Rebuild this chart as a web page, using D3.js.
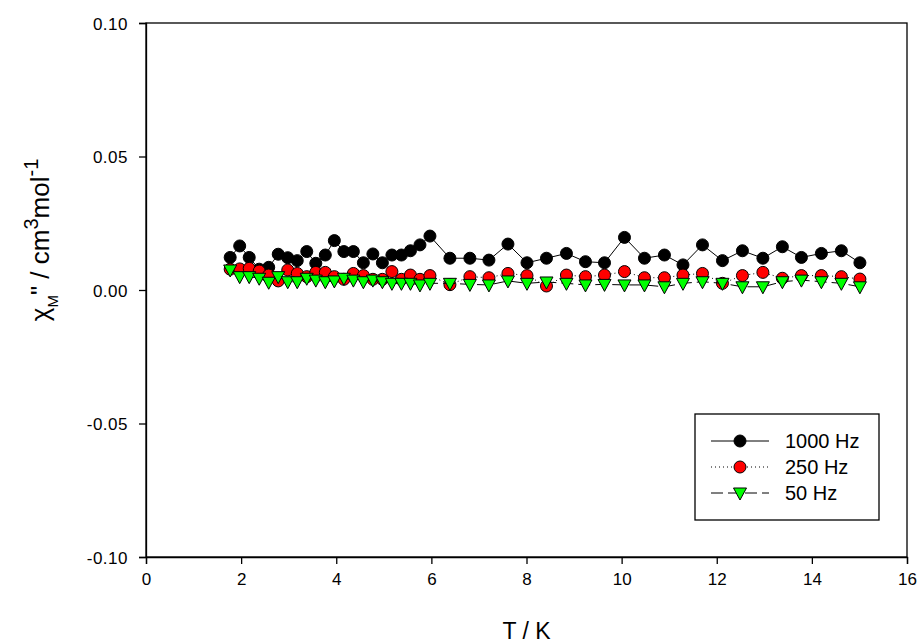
<!DOCTYPE html>
<html>
<head>
<meta charset="utf-8">
<script src="https://cdn.jsdelivr.net/npm/d3@7"></script>
<style>
html,body{margin:0;padding:0;background:#fff;}
svg{display:block;font-family:"Liberation Sans",Arial,sans-serif;}
</style>
</head>
<body>
<svg id="chart" width="921" height="644"></svg>
<script>
// ---- data ----
const temps = [1.77,1.97,2.17,2.38,2.58,2.78,2.98,3.18,3.38,3.57,3.77,3.96,4.16,4.36,4.57,4.77,4.97,5.17,5.37,5.56,5.76,5.97,
  6.39,6.81,7.21,7.61,8.01,8.42,8.84,9.24,9.64,10.06,10.48,10.90,11.29,11.70,12.12,12.54,12.97,13.38,13.78,14.20,14.62,15.01];
const hz1000 = [0.0122,0.0165,0.0122,0.0078,0.0085,0.0134,0.0121,0.0110,0.0144,0.0100,0.0131,0.0185,0.0144,0.0144,0.0102,0.0135,0.0102,0.0131,0.0131,0.0147,0.0169,0.0202,
  0.0119,0.0119,0.0112,0.0172,0.0102,0.0119,0.0137,0.0106,0.0102,0.0197,0.0119,0.0131,0.0094,0.0169,0.0110,0.0147,0.0119,0.0162,0.0122,0.0137,0.0147,0.0102];
const hz250 = [0.0078,0.0079,0.0081,0.0071,0.0056,0.0034,0.0075,0.0062,0.0050,0.0066,0.0066,0.0050,0.0040,0.0062,0.0054,0.0040,0.0040,0.0069,0.0040,0.0056,0.0040,0.0054,
  0.0020,0.0050,0.0046,0.0062,0.0054,0.0015,0.0056,0.0050,0.0056,0.0069,0.0046,0.0046,0.0056,0.0062,0.0025,0.0054,0.0066,0.0044,0.0054,0.0054,0.0050,0.0041];
const hz50 = [0.0075,0.0050,0.0050,0.0044,0.0029,0.0050,0.0031,0.0031,0.0044,0.0037,0.0031,0.0034,0.0044,0.0037,0.0031,0.0037,0.0031,0.0025,0.0025,0.0025,0.0019,0.0025,
  0.0025,0.0021,0.0019,0.0034,0.0025,0.0030,0.0025,0.0019,0.0021,0.0019,0.0019,0.0012,0.0025,0.0031,0.0025,0.0012,0.0012,0.0031,0.0037,0.0031,0.0025,0.0012];
const xTicks = [0,2,4,6,8,10,12,14,16];
const yTicks = [-0.10,-0.05,0.00,0.05,0.10];
const seriesNames = ["1000 Hz","250 Hz","50 Hz"];

// ---- layout ----
const W = 921, H = 644;
const m = {left:146, right:14, top:23, bottom:87};
const svg = d3.select("#chart");
const x = d3.scaleLinear().domain([0,16]).range([m.left, W - m.right]);
const y = d3.scaleLinear().domain([-0.10,0.10]).range([H - m.bottom, m.top]);

const series = [
  {name:seriesNames[0], vals:hz1000, fill:"#000000", dash:null, shape:"circle"},
  {name:seriesNames[1], vals:hz250, fill:"#ff0000", dash:"1,3", shape:"circle"},
  {name:seriesNames[2], vals:hz50, fill:"#00ff00", dash:"12,5", shape:"tri"}
];

const triPath = "M-6.5,-5L6.5,-5L0,7Z";

function drawMarker(g, s, cx, cy){
  if(s.shape === "circle"){
    g.append("circle").attr("cx",cx).attr("cy",cy).attr("r",6)
      .attr("fill",s.fill).attr("stroke","#000").attr("stroke-width",1);
  } else {
    g.append("path").attr("d",triPath).attr("transform",`translate(${cx},${cy})`)
      .attr("fill",s.fill).attr("stroke","#000").attr("stroke-width",1);
  }
}

series.forEach(s => {
  const pts = temps.map((t,i)=>[t,s.vals[i]]);
  const line = d3.line().x(d=>x(d[0])).y(d=>y(d[1]));
  svg.append("path").datum(pts).attr("d",line).attr("fill","none")
    .attr("stroke","#000").attr("stroke-width",1)
    .attr("stroke-dasharray", s.dash);
  const g = svg.append("g");
  pts.forEach(d => drawMarker(g, s, x(d[0]), y(d[1])));
});

// frame
svg.append("rect").attr("x",m.left).attr("y",m.top)
  .attr("width",W-m.left-m.right).attr("height",H-m.top-m.bottom)
  .attr("fill","none").attr("stroke","#000").attr("stroke-width",1.3);

// axes
const fmtY = d => d3.format(".2f")(d).replace("−","-");
const xAxis = d3.axisBottom(x).tickValues(xTicks).tickSize(7).tickPadding(9).tickFormat(d3.format("d"));
const gx = svg.append("g").attr("transform",`translate(0,${H-m.bottom})`).call(xAxis);
const yAxis = d3.axisLeft(y).tickValues(yTicks).tickSize(7).tickPadding(11).tickFormat(fmtY);
const gy = svg.append("g").attr("transform",`translate(${m.left},0)`).call(yAxis);
[gx,gy].forEach(g=>{
  g.select(".domain").attr("stroke","#000").attr("stroke-width",1.3);
  g.selectAll(".tick line").attr("stroke","#000").attr("stroke-width",1.3);
  g.selectAll(".tick text").attr("fill","#000").style("font-size","17px")
    .style("font-family","'Liberation Sans',Arial,sans-serif");
});
gy.selectAll(".tick text").attr("dy","0.36em").attr("letter-spacing","0.5px");

// axis titles
svg.append("text").attr("x",(x(0)+x(16))/2).attr("y",639).attr("text-anchor","middle")
  .style("font-size","23px").text("T / K");

const yl = svg.append("text").attr("transform",`translate(49,240) rotate(-90)`)
  .attr("text-anchor","middle").style("font-size","26px");
yl.append("tspan").text("χ");
yl.append("tspan").attr("baseline-shift","sub").style("font-size","15px").text("M");
yl.append("tspan").text("\" / cm");
yl.append("tspan").attr("baseline-shift","super").style("font-size","20px").text("3");
yl.append("tspan").text("mol");
yl.append("tspan").attr("baseline-shift","super").style("font-size","20px").text("-1");

// legend
const lg = svg.append("g");
lg.append("rect").attr("x",695).attr("y",414).attr("width",184).attr("height",106)
  .attr("fill","#fff").attr("stroke","#000").attr("stroke-width",1.3);
const rowY = [441,467,493];
series.forEach((s,i)=>{
  const yy = rowY[i];
  lg.append("line").attr("x1",711).attr("x2",769).attr("y1",yy).attr("y2",yy)
    .attr("stroke","#000").attr("stroke-width",1).attr("stroke-dasharray", s.dash);
  drawMarker(lg, s, 740, yy);
  lg.append("text").attr("x",785).attr("y",yy+7).style("font-size","20px").text(s.name);
});
</script>
</body>
</html>
